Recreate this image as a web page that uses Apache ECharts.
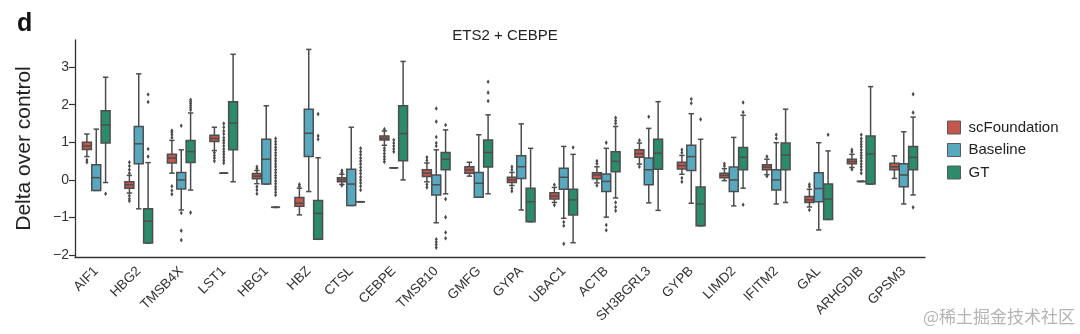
<!DOCTYPE html>
<html>
<head>
<meta charset="utf-8">
<script src="https://cdn.jsdelivr.net/npm/echarts@6/dist/echarts.min.js"></script>
<style>
  html, body { margin: 0; padding: 0; background: #ffffff; }
  #chart { width: 1080px; height: 334px; }
</style>
</head>
<body>
<div id="chart"></div>
<script>
// Genes on the x axis
const genes = ['AIF1', 'HBG2', 'TMSB4X', 'LST1', 'HBG1', 'HBZ', 'CTSL', 'CEBPE', 'TMSB10', 'GMFG',
  'GYPA', 'UBAC1', 'ACTB', 'SH3BGRL3', 'GYPB', 'LIMD2', 'IFITM2', 'GAL', 'ARHGDIB', 'GPSM3'];

const yTicks = [-2, -1, 0, 1, 2, 3];

// Per gene: [lower whisker, Q1, median, Q3, upper whisker]
const scFoundationBoxes = [
  [0.62, 0.81, 0.90, 1.00, 1.22],
  [-0.35, -0.22, -0.13, -0.05, 0.12],
  [0.18, 0.45, 0.58, 0.68, 1.05],
  [0.78, 1.02, 1.10, 1.19, 1.40],
  [-0.10, 0.03, 0.10, 0.17, 0.25],
  [-0.93, -0.70, -0.62, -0.47, -0.22],
  [-0.12, -0.05, 0.00, 0.06, 0.15],
  [0.92, 1.06, 1.11, 1.17, 1.30],
  [-0.05, 0.09, 0.18, 0.27, 0.45],
  [0.10, 0.18, 0.27, 0.35, 0.47],
  [-0.15, -0.07, 0.00, 0.07, 0.20],
  [-0.60, -0.51, -0.43, -0.34, -0.20],
  [-0.08, 0.03, 0.13, 0.19, 0.35],
  [0.42, 0.60, 0.70, 0.80, 0.98],
  [0.15, 0.29, 0.38, 0.47, 0.65],
  [-0.02, 0.06, 0.12, 0.18, 0.30],
  [0.14, 0.27, 0.34, 0.40, 0.55],
  [-0.72, -0.60, -0.53, -0.44, -0.25],
  [0.33, 0.43, 0.49, 0.55, 0.68],
  [0.04, 0.27, 0.35, 0.44, 0.64]
];

const baselineBoxes = [
  [-0.28, -0.28, 0.06, 0.40, 1.35],
  [-0.77, 0.43, 0.96, 1.42, 2.82],
  [-0.80, -0.24, 0.00, 0.20, 0.80],
  [0.18, 0.18, 0.18, 0.18, 0.18],
  [-0.11, -0.11, 0.55, 1.08, 1.97],
  [-0.31, 0.62, 1.24, 1.88, 3.47],
  [-0.68, -0.68, -0.11, 0.28, 1.40],
  [0.32, 0.32, 0.32, 0.32, 0.32],
  [-1.14, -0.40, -0.13, 0.13, 0.80],
  [-0.46, -0.46, -0.09, 0.20, 1.20],
  [-0.80, 0.04, 0.35, 0.64, 1.49],
  [-1.02, -0.25, 0.07, 0.31, 0.89],
  [-0.99, -0.31, -0.04, 0.16, 0.84],
  [-0.61, -0.13, 0.27, 0.58, 1.37],
  [-0.62, 0.25, 0.62, 0.92, 1.76],
  [-0.69, -0.31, 0.00, 0.34, 1.13],
  [-0.64, -0.27, 0.00, 0.27, 0.99],
  [-1.33, -0.58, -0.23, 0.19, 0.99],
  [-0.04, -0.04, -0.04, -0.04, -0.04],
  [-0.64, -0.18, 0.13, 0.43, 1.28]
];

const gtBoxes = [
  [-0.07, 0.98, 1.46, 1.84, 2.73],
  [-1.68, -1.68, -1.10, -0.77, 0.46],
  [-0.27, 0.46, 0.75, 1.05, 1.78],
  [-0.05, 0.80, 1.51, 2.08, 3.34],
  [-0.73, -0.73, -0.73, -0.73, -0.73],
  [-1.58, -1.58, -0.89, -0.55, 0.59],
  [-0.58, -0.58, -0.58, -0.58, -0.58],
  [0.00, 0.51, 1.23, 1.97, 3.15],
  [-0.37, 0.27, 0.55, 0.73, 1.33],
  [-0.37, 0.34, 0.73, 1.06, 1.73],
  [-1.11, -1.11, -0.58, -0.22, 0.84],
  [-1.67, -0.93, -0.53, -0.25, 0.68],
  [-0.48, 0.22, 0.49, 0.75, 1.42],
  [-0.81, 0.28, 0.71, 1.08, 2.08],
  [-1.22, -1.22, -0.64, -0.19, 1.08],
  [-0.22, 0.27, 0.60, 0.86, 1.72],
  [-0.60, 0.27, 0.66, 0.98, 1.88],
  [-1.05, -1.05, -0.51, -0.11, 0.77],
  [-0.11, -0.11, 0.69, 1.17, 2.48],
  [-0.40, 0.27, 0.60, 0.89, 1.67]
];

// Points beyond the whiskers: [gene, value]
const scFoundationOutliers = [
  ['AIF1', 0.53], ['AIF1', 0.47],
  ['HBG2', 0.18], ['HBG2', 0.27], ['HBG2', 0.37], ['HBG2', 0.47], ['HBG2', -0.42], ['HBG2', -0.50], ['HBG2', -0.56],
  ['TMSB4X', 1.12], ['TMSB4X', 1.20], ['TMSB4X', 1.27], ['TMSB4X', 1.31], ['TMSB4X', -0.17], ['TMSB4X', -0.28], ['TMSB4X', -0.38],
  ['LST1', 0.72], ['LST1', 0.65], ['LST1', 0.58], ['LST1', 0.50],
  ['HBG1', 0.30], ['HBG1', 0.35], ['HBG1', -0.18], ['HBG1', -0.27], ['HBG1', -0.37],
  ['HBZ', -0.17], ['HBZ', -0.12],
  ['CTSL', 0.20], ['CTSL', 0.25], ['CTSL', -0.15],
  ['CEBPE', 1.35], ['CEBPE', 0.85], ['CEBPE', 0.78], ['CEBPE', 0.70], ['CEBPE', 0.62], ['CEBPE', 0.55], ['CEBPE', 0.48],
  ['TMSB10', 0.52], ['TMSB10', 0.60], ['TMSB10', -0.12], ['TMSB10', -0.20],
  ['GYPA', 0.27], ['GYPA', 0.35], ['GYPA', -0.22], ['GYPA', -0.30],
  ['UBAC1', -0.13], ['UBAC1', -0.67],
  ['ACTB', 0.43], ['ACTB', 0.50], ['ACTB', -0.15],
  ['SH3BGRL3', 1.05], ['SH3BGRL3', 0.35],
  ['GYPB', 0.72], ['GYPB', 0.80], ['GYPB', 0.05], ['GYPB', -0.05],
  ['LIMD2', 0.37], ['LIMD2', 0.43],
  ['IFITM2', 0.62], ['IFITM2', 0.10],
  ['GAL', -0.18], ['GAL', -0.12], ['GAL', -0.80],
  ['ARHGDIB', 0.75], ['ARHGDIB', 0.80], ['ARHGDIB', 0.28]
];

const baselineOutliers = [
  ['TMSB4X', 1.44], ['TMSB4X', -0.88], ['TMSB4X', -1.35], ['TMSB4X', -1.60],
  ['LST1', 1.50], ['LST1', 1.40], ['LST1', 1.30], ['LST1', 1.22], ['LST1', 1.12], ['LST1', 1.05], ['LST1', 0.98],
  ['LST1', 0.90], ['LST1', 0.82], ['LST1', 0.75], ['LST1', 0.68], ['LST1', 0.60], ['LST1', 0.52], ['LST1', 0.45],
  ['CEBPE', 1.06], ['CEBPE', 0.98], ['CEBPE', 0.90], ['CEBPE', 0.82], ['CEBPE', 0.75],
  ['TMSB10', 1.90], ['TMSB10', 1.55], ['TMSB10', 1.14], ['TMSB10', 0.98], ['TMSB10', 0.90],
  ['TMSB10', -1.58], ['TMSB10', -1.65], ['TMSB10', -1.72], ['TMSB10', -1.80],
  ['UBAC1', -1.12], ['UBAC1', -1.22], ['UBAC1', -1.70],
  ['ACTB', 0.99], ['ACTB', -1.20], ['ACTB', -1.34],
  ['SH3BGRL3', 1.68],
  ['GYPB', 2.15], ['GYPB', 2.04],
  ['IFITM2', 1.20], ['IFITM2', 1.10],
  ['ARHGDIB', 1.20], ['ARHGDIB', 1.10], ['ARHGDIB', 1.02], ['ARHGDIB', 0.95], ['ARHGDIB', 0.88], ['ARHGDIB', 0.80],
  ['ARHGDIB', 0.72], ['ARHGDIB', 0.65], ['ARHGDIB', 0.58], ['ARHGDIB', 0.50], ['ARHGDIB', 0.42], ['ARHGDIB', 0.35],
  ['ARHGDIB', 0.27], ['ARHGDIB', 0.18]
];

const gtOutliers = [
  ['AIF1', -0.37],
  ['HBG2', 2.27], ['HBG2', 2.07], ['HBG2', 0.82], ['HBG2', 0.62],
  ['TMSB4X', 1.86], ['TMSB4X', 1.92], ['TMSB4X', 1.98], ['TMSB4X', 2.03], ['TMSB4X', 2.08], ['TMSB4X', 2.13], ['TMSB4X', -0.87],
  ['HBG1', 1.10], ['HBG1', 1.02], ['HBG1', 0.95], ['HBG1', 0.87], ['HBG1', 0.80], ['HBG1', 0.72], ['HBG1', 0.65],
  ['HBG1', 0.57], ['HBG1', 0.50], ['HBG1', 0.42], ['HBG1', 0.35], ['HBG1', 0.27], ['HBG1', 0.20], ['HBG1', 0.12],
  ['HBG1', 0.05], ['HBG1', -0.03], ['HBG1', -0.10], ['HBG1', -0.18], ['HBG1', -0.25], ['HBG1', -0.33], ['HBG1', -0.40],
  ['HBZ', 1.75], ['HBZ', 1.17], ['HBZ', 1.08],
  ['CTSL', 0.84], ['CTSL', 0.75], ['CTSL', 0.67], ['CTSL', 0.58], ['CTSL', 0.50], ['CTSL', 0.42], ['CTSL', 0.33],
  ['CTSL', 0.25], ['CTSL', 0.17], ['CTSL', 0.08], ['CTSL', 0.00], ['CTSL', -0.08], ['CTSL', -0.17], ['CTSL', -0.27],
  ['TMSB10', 1.46], ['TMSB10', -0.51], ['TMSB10', -0.99], ['TMSB10', -1.40], ['TMSB10', -1.55],
  ['GMFG', 2.61], ['GMFG', 2.32], ['GMFG', 2.10],
  ['UBAC1', 0.86],
  ['ACTB', 1.50], ['ACTB', 1.57], ['ACTB', 1.65], ['ACTB', -0.60], ['ACTB', -0.72], ['ACTB', -0.82],
  ['GYPB', 1.61],
  ['LIMD2', 1.80], ['LIMD2', 2.06], ['LIMD2', -0.66],
  ['GAL', 1.20],
  ['GPSM3', 1.79], ['GPSM3', 2.28], ['GPSM3', -0.73]
];

const seriesNames = ['scFoundation', 'Baseline', 'GT'];
const seriesColors = ['#c2574d', '#58a9c0', '#2b8b6b'];

const EDGE = '#4d4d4d';
const LINE_W = 1.5;
const SLOT_STEP = 0.22;   // centre-to-centre spacing of the three boxes, as a share of the band
const BOX_SHARE = 0.21;   // box width as a share of the band
const FONT = "'Liberation Sans', Arial, sans-serif";

function boxData(rows) {
  return rows.map((r, i) => [i].concat(r));
}
function pointData(rows) {
  return rows.map(r => [genes.indexOf(r[0]), r[1]]);
}

function slotCenter(api, idx, slot) {
  const band = api.size([1, 0])[0];
  return api.coord([idx, 0])[0] + (slot - 1) * band * SLOT_STEP;
}

function boxRenderer(slot) {
  return function (params, api) {
    const idx = api.value(0);
    const band = api.size([1, 0])[0];
    const cx = slotCenter(api, idx, slot);
    const half = band * BOX_SHARE / 2;
    const capHalf = half * 0.6;
    const y = [1, 2, 3, 4, 5].map(d => api.coord([idx, api.value(d)])[1]);
    const seg = (x1, y1, x2, y2) => ({
      type: 'line', shape: { x1, y1, x2, y2 },
      style: { stroke: EDGE, lineWidth: LINE_W }
    });
    return {
      type: 'group',
      children: [
        seg(cx, y[0], cx, y[1]),
        seg(cx, y[3], cx, y[4]),
        seg(cx - capHalf, y[0], cx + capHalf, y[0]),
        seg(cx - capHalf, y[4], cx + capHalf, y[4]),
        {
          type: 'rect',
          shape: { x: cx - half, y: y[3], width: half * 2, height: y[1] - y[3] },
          style: { fill: seriesColors[slot], stroke: EDGE, lineWidth: LINE_W }
        },
        seg(cx - half, y[2], cx + half, y[2])
      ]
    };
  };
}

function outlierRenderer(slot) {
  return function (params, api) {
    const idx = api.value(0);
    const cx = slotCenter(api, idx, slot);
    const cy = api.coord([idx, api.value(1)])[1];
    return {
      type: 'polygon',
      shape: { points: [[cx, cy - 2.3], [cx + 1.5, cy], [cx, cy + 2.3], [cx - 1.5, cy]] },
      style: { fill: '#4a4a4a' }
    };
  };
}

const boxSets = [scFoundationBoxes, baselineBoxes, gtBoxes];
const outlierSets = [scFoundationOutliers, baselineOutliers, gtOutliers];

const series = [];
seriesNames.forEach((name, s) => {
  series.push({
    name: name,
    type: 'custom',
    renderItem: boxRenderer(s),
    itemStyle: { color: seriesColors[s] },
    encode: { x: 0, y: [1, 2, 3, 4, 5] },
    data: boxData(boxSets[s]),
    z: 2
  });
});
seriesNames.forEach((name, s) => {
  series.push({
    name: name,
    type: 'custom',
    renderItem: outlierRenderer(s),
    itemStyle: { color: seriesColors[s] },
    encode: { x: 0, y: 1 },
    data: pointData(outlierSets[s]),
    z: 3
  });
});

const chart = echarts.init(document.getElementById('chart'), null, { renderer: 'canvas' });
chart.setOption({
  animation: false,
  backgroundColor: '#ffffff',
  textStyle: { fontFamily: FONT },
  title: {
    text: 'ETS2 + CEBPE',
    left: 500,
    top: 23,
    textAlign: 'center',
    textStyle: { fontSize: 15, fontWeight: 'normal', color: '#222', fontFamily: FONT }
  },
  legend: {
    orient: 'vertical',
    left: 942,
    top: 115,
    itemWidth: 13,
    itemHeight: 13,
    itemGap: 7.5,
    icon: 'rect',
    selectedMode: false,
    textStyle: { fontSize: 15, lineHeight: 15, color: '#222', fontFamily: FONT, padding: [0, 0, 0, 3] },
    data: seriesNames.map((n, i) => ({
      name: n,
      itemStyle: { color: seriesColors[i], borderColor: '#5a5a5a', borderWidth: 1 }
    }))
  },
  grid: { left: 75, right: 155, top: 40, bottom: 77, containLabel: false },
  xAxis: {
    type: 'category',
    data: genes,
    boundaryGap: true,
    axisLine: { onZero: false, lineStyle: { color: '#333', width: 1.3 } },
    axisTick: { alignWithLabel: true, length: 5, lineStyle: { color: '#333', width: 1.2 } },
    axisLabel: { rotate: 45, fontSize: 13.5, color: '#333', margin: 12, interval: 0, fontFamily: FONT },
    splitLine: { show: false }
  },
  yAxis: {
    type: 'value',
    min: -2.05,
    max: 3.72,
    name: 'Delta over control',
    nameLocation: 'middle',
    nameGap: 40,
    nameRotate: 90,
    nameTextStyle: { fontSize: 21, color: '#222', fontFamily: FONT },
    axisLine: { show: true, lineStyle: { color: '#333', width: 1.3 } },
    axisTick: { show: true, length: 6, customValues: yTicks, lineStyle: { color: '#333', width: 1.2 } },
    axisLabel: {
      customValues: yTicks,
      fontSize: 14,
      color: '#333',
      margin: 6,
      fontFamily: FONT,
      formatter: v => String(v).replace('-', '\u2212')
    },
    splitLine: { show: false }
  },
  graphic: [
    {
      type: 'text',
      left: 17,
      top: 12,
      style: { text: 'd', fontSize: 25, fontWeight: 'bold', fill: '#111', fontFamily: FONT }
    },
    {
      type: 'text',
      right: 5,
      top: 308,
      style: { text: '@稀土掘金技术社区', fontSize: 17, fill: '#b4b4b4', fontFamily: "'Noto Sans CJK SC', sans-serif" }
    }
  ],
  series: series
});
</script>
</body>
</html>
